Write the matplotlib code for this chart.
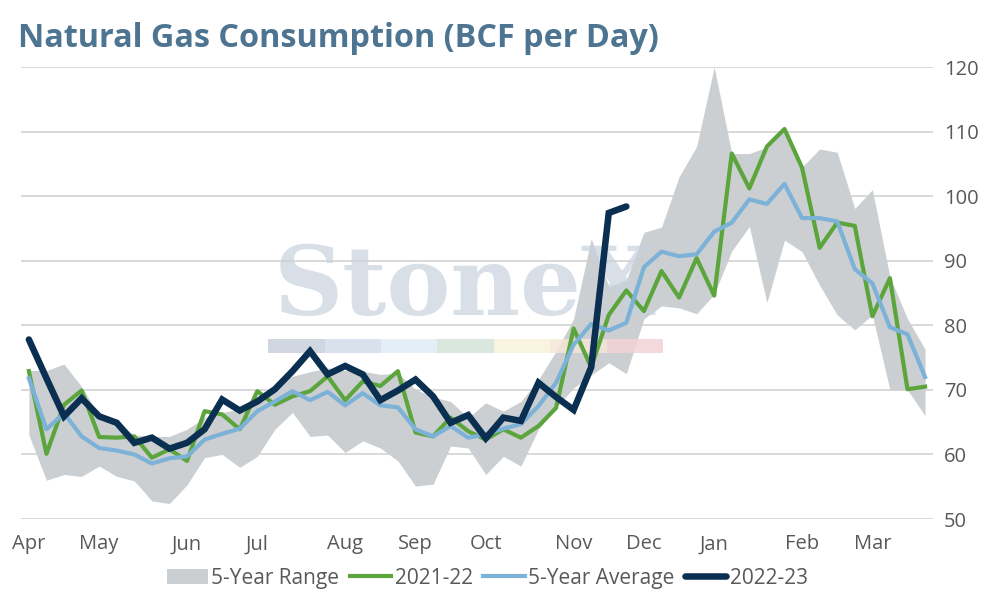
import matplotlib.pyplot as plt
from matplotlib.patches import Rectangle
import numpy as np

plt.rcParams['font.family'] = ['Open Sans', 'DejaVu Sans']

# weekly values, April to March (52 weeks)
months = ['Apr', 'May', 'Jun', 'Jul', 'Aug', 'Sep', 'Oct', 'Nov', 'Dec', 'Jan', 'Feb', 'Mar']
month_weeks = [0, 4, 9, 13, 18, 22, 26, 31, 35, 39, 44, 48]

range_hi = [73.0, 73.0, 74.0, 70.5, 66.0, 65.0, 63.0, 62.8, 62.8, 63.9, 65.7, 66.5, 67.0,
            69.0, 70.8, 72.1, 72.8, 73.4, 73.0, 72.9, 72.4, 72.6, 70.1, 68.9, 68.2, 65.7,
            68.0, 66.7, 68.2, 71.6, 76.0, 81.0, 93.4, 86.0, 87.0, 94.4, 95.2, 103.0, 107.7,
            120.0, 106.6, 106.6, 107.6, 110.4, 104.5, 107.3, 106.8, 98.1, 101.0, 87.5, 81.0, 76.3]
range_lo = [63.0, 56.0, 56.9, 56.6, 58.2, 56.6, 55.9, 52.8, 52.4, 55.3, 59.5, 60.0, 58.0,
            59.7, 63.9, 66.5, 62.8, 63.0, 60.3, 62.1, 61.0, 59.0, 55.1, 55.4, 61.3, 61.0,
            56.9, 59.7, 58.2, 63.9, 67.3, 70.3, 72.3, 74.2, 72.5, 81.0, 83.0, 82.7, 81.8,
            84.8, 91.5, 95.3, 83.5, 93.2, 91.4, 86.2, 81.6, 79.3, 81.6, 70.0, 70.0, 66.0]
y2021 = [72.9, 60.1, 67.7, 69.9, 62.7, 62.6, 62.8, 59.5, 60.8, 59.0, 66.7, 66.2, 63.9,
         69.8, 67.7, 69.0, 69.8, 72.1, 68.4, 71.3, 70.6, 72.9, 63.4, 62.8, 65.7, 63.6,
         62.3, 63.9, 62.6, 64.4, 67.2, 79.5, 73.5, 81.6, 85.4, 82.2, 88.4, 84.3, 90.4,
         84.6, 106.6, 101.2, 107.7, 110.4, 104.4, 92.0, 95.9, 95.4, 81.4, 87.3, 70.1, 70.5]
avg5 = [71.8, 63.9, 66.4, 62.8, 61.0, 60.6, 60.0, 58.6, 59.4, 59.7, 62.3, 63.2, 64.0,
        66.7, 68.2, 69.8, 68.4, 69.7, 67.6, 69.5, 67.6, 67.3, 63.9, 62.8, 64.4, 62.6,
        63.1, 64.0, 64.7, 67.5, 71.1, 77.0, 80.2, 79.2, 80.4, 89.0, 91.4, 90.7, 91.0,
        94.5, 95.9, 99.5, 98.8, 101.9, 96.6, 96.6, 96.1, 88.7, 86.5, 79.7, 78.6, 72.0]
y2022 = [77.8, 71.8, 65.9, 68.7, 65.9, 64.9, 61.8, 62.6, 60.9, 61.8, 63.9, 68.5, 66.8,
         68.2, 70.1, 72.9, 76.0, 72.4, 73.7, 72.4, 68.4, 69.9, 71.6, 69.0, 64.9, 66.1,
         62.5, 65.7, 65.2, 71.1, 68.9, 66.9, 73.5, 97.4, 98.4]

weeks = np.arange(len(avg5))

fig = plt.figure(figsize=(9.94, 6.01), dpi=100)
ax = fig.add_axes([0.0211, 0.1364, 0.9175, 0.7521])

ax.fill_between(weeks, range_lo, range_hi, color='#cbcfd1', lw=0, label='5-Year Range', zorder=2)

# watermark
ax.text(0.487, 0.451, 'StoneX', transform=ax.transAxes, ha='center', va='baseline',
        fontsize=69, family='DejaVu Serif', weight='bold', color='#c8d2de', alpha=0.7, zorder=3)
ax.text(0.728, 0.605, 'TM', transform=ax.transAxes, ha='center', va='center',
        fontsize=9, color='#c8d2de', alpha=0.8, zorder=3)
bar_colors = ['#c9d1dc', '#d3dde9', '#deebf5', '#d4e3d9', '#f8f3da', '#f5e6d8', '#f3d3d6']
bw = (0.704 - 0.271) / len(bar_colors)
for k, c in enumerate(bar_colors):
    ax.add_patch(Rectangle((0.271 + k * bw, 0.367), bw, 0.031, transform=ax.transAxes,
                           color=c, alpha=0.85, lw=0, zorder=3))

ax.plot(weeks, y2021, color='#5ca53c', lw=3.0, label='2021-22', zorder=4)
ax.plot(weeks, avg5, color='#7cb1d8', lw=3.0, label='5-Year Average', zorder=5)
ax.plot(weeks[:len(y2022)], y2022, color='#0b2f50', lw=4.7, label='2022-23', zorder=6,
        solid_capstyle='round', solid_joinstyle='miter')

ax.set_ylim(50, 120)
ax.set_xlim(-0.45, 51.45)
ax.set_yticks(range(50, 121, 10))
ax.yaxis.tick_right()
ax.set_xticks(month_weeks)
ax.set_xticklabels(months)
ax.tick_params(length=0, labelsize=14.5, colors='#595959')
ax.tick_params(axis='y', pad=8)
ax.tick_params(axis='x', pad=11)
ax.grid(axis='y', color='#d9d9d9', lw=1.4, zorder=1)
ax.set_axisbelow(True)
for s in ax.spines.values():
    s.set_visible(False)

fig.text(0.018, 0.922, 'Natural Gas Consumption (BCF per Day)', fontsize=23.3, weight='bold',
         color='#4d7491', ha='left', va='baseline')

fig.legend(loc='center', bbox_to_anchor=(0.49, 0.038), ncol=4, frameon=False, fontsize=15,
           labelcolor='#595959', handlelength=2.0, handletextpad=0.15, columnspacing=0.5)

fig.savefig('out.png', dpi=100)
